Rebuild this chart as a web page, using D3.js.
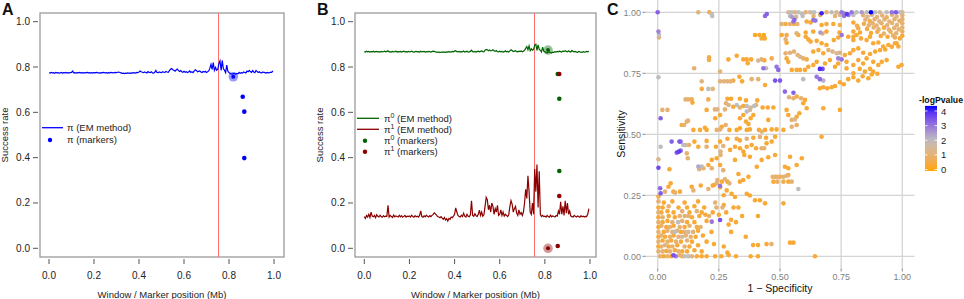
<!DOCTYPE html>
<html>
<head>
<meta charset="utf-8">
<script src="https://cdn.jsdelivr.net/npm/d3@7"></script>
<style>
  body { margin: 0; background: #fff; }
  svg { font-family: "Liberation Sans", Arial, Helvetica, sans-serif; }
</style>
</head>
<body>
<svg id="fig" width="964" height="299"></svg>
<script>
// ---- data ----
// EM windows every 0.005 Mb, starting at 0
const windowStep = 0.005;

// panel A: success rate pi (EM method)
const piEM = [
  0.775,0.773,0.776,0.774,0.775,0.772,0.776,0.774,0.775,0.773,0.774,0.776,0.773,0.775,0.774,0.776,0.773,0.775,0.774,0.775,
  0.776,0.782,0.774,0.775,0.773,0.775,0.774,0.776,0.774,0.775,0.773,0.775,0.774,0.775,0.776,0.774,0.775,0.773,0.775,0.774,
  0.775,0.774,0.776,0.775,0.774,0.773,0.775,0.774,0.776,0.775,0.774,0.775,0.773,0.775,0.774,0.776,0.775,0.774,0.775,0.776,
  0.775,0.777,0.778,0.776,0.774,0.772,0.773,0.771,0.773,0.772,0.774,0.773,0.772,0.774,0.773,0.775,0.774,0.773,0.776,0.775,
  0.778,0.782,0.779,0.777,0.775,0.778,0.776,0.774,0.780,0.776,0.775,0.779,0.774,0.773,0.777,0.785,0.776,0.775,0.778,0.776,
  0.775,0.779,0.777,0.776,0.780,0.778,0.777,0.784,0.790,0.793,0.788,0.786,0.782,0.787,0.791,0.785,0.780,0.784,0.779,0.777,
  0.781,0.777,0.779,0.776,0.778,0.783,0.776,0.779,0.775,0.782,0.788,0.785,0.779,0.781,0.783,0.778,0.776,0.780,0.778,0.781,
  0.776,0.779,0.783,0.795,0.812,0.790,0.820,0.785,0.798,0.786,0.790,0.815,0.827,0.785,0.829,0.792,0.786,0.775,0.809,0.781,
  0.776,0.772,0.770,0.769,0.772,0.771,0.768,0.772,0.770,0.776,0.772,0.775,0.773,0.778,0.776,0.774,0.782,0.779,0.785,0.780,
  0.776,0.784,0.778,0.775,0.785,0.780,0.776,0.779,0.775,0.774,0.778,0.776,0.775,0.773,0.776,0.774,0.775,0.777,0.776,0.783
];

// panel B: pi0 and pi1 (EM method)
const pi0EM = [
  0.868,0.866,0.870,0.867,0.869,0.866,0.868,0.867,0.870,0.866,0.868,0.869,0.867,0.868,0.866,0.869,0.867,0.868,0.870,0.867,
  0.869,0.872,0.867,0.868,0.866,0.869,0.867,0.868,0.870,0.866,0.868,0.867,0.869,0.866,0.868,0.870,0.867,0.868,0.866,0.869,
  0.867,0.868,0.870,0.867,0.866,0.868,0.869,0.867,0.868,0.866,0.870,0.867,0.868,0.869,0.866,0.868,0.867,0.869,0.868,0.866,
  0.868,0.870,0.869,0.867,0.866,0.865,0.867,0.864,0.866,0.865,0.867,0.866,0.865,0.867,0.866,0.868,0.867,0.866,0.869,0.867,
  0.870,0.872,0.868,0.867,0.869,0.866,0.868,0.867,0.871,0.866,0.868,0.870,0.866,0.867,0.869,0.874,0.868,0.867,0.869,0.866,
  0.868,0.870,0.867,0.869,0.871,0.868,0.867,0.874,0.878,0.876,0.872,0.875,0.871,0.873,0.876,0.872,0.869,0.873,0.868,0.867,
  0.870,0.867,0.869,0.866,0.868,0.872,0.867,0.869,0.866,0.871,0.876,0.873,0.868,0.870,0.872,0.868,0.867,0.870,0.868,0.871,
  0.867,0.870,0.874,0.882,0.890,0.876,0.893,0.872,0.880,0.874,0.878,0.896,0.901,0.873,0.898,0.879,0.874,0.866,0.888,0.870,
  0.867,0.864,0.862,0.865,0.867,0.864,0.862,0.866,0.865,0.868,0.866,0.869,0.867,0.870,0.868,0.866,0.871,0.868,0.872,0.869,
  0.867,0.872,0.868,0.866,0.873,0.869,0.867,0.869,0.866,0.865,0.869,0.867,0.866,0.865,0.868,0.866,0.867,0.869,0.867,0.870
];
const pi1EM = [
  0.140,0.132,0.145,0.138,0.150,0.136,0.160,0.142,0.139,0.145,0.135,0.148,0.141,0.138,0.146,0.140,0.137,0.144,0.139,0.142,
  0.141,0.190,0.138,0.145,0.140,0.136,0.147,0.139,0.143,0.140,0.138,0.146,0.139,0.144,0.137,0.141,0.145,0.138,0.142,0.140,
  0.143,0.138,0.146,0.140,0.137,0.144,0.139,0.142,0.138,0.145,0.165,0.140,0.137,0.143,0.139,0.146,0.141,0.138,0.144,0.140,
  0.145,0.150,0.156,0.152,0.146,0.140,0.138,0.135,0.140,0.133,0.128,0.136,0.125,0.130,0.120,0.132,0.128,0.138,0.135,0.142,
  0.150,0.178,0.160,0.145,0.140,0.138,0.146,0.140,0.155,0.142,0.138,0.150,0.141,0.139,0.148,0.210,0.145,0.141,0.152,0.144,
  0.140,0.150,0.168,0.145,0.160,0.142,0.148,0.185,0.225,0.215,0.170,0.190,0.160,0.200,0.185,0.150,0.175,0.160,0.190,0.145,
  0.150,0.170,0.145,0.160,0.142,0.150,0.145,0.140,0.148,0.185,0.210,0.195,0.160,0.175,0.185,0.155,0.145,0.170,0.150,0.158,
  0.145,0.160,0.200,0.260,0.220,0.320,0.250,0.160,0.150,0.200,0.150,0.350,0.250,0.370,0.180,0.340,0.150,0.140,0.145,0.140,
  0.142,0.138,0.145,0.140,0.137,0.146,0.139,0.143,0.140,0.138,0.145,0.142,0.165,0.150,0.205,0.150,0.185,0.145,0.210,0.155,
  0.200,0.150,0.165,0.142,0.140,0.138,0.145,0.141,0.138,0.143,0.140,0.137,0.144,0.139,0.142,0.138,0.141,0.140,0.150,0.175
];

// causal position
const causalPos = 0.75;

// marker estimates [position, success rate]
const piMarkers = [[0.861, 0.669], [0.868, 0.603], [0.868, 0.398]];
const piHighlight = [0.819, 0.757];
const pi0Markers = [[0.857, 0.769], [0.864, 0.66], [0.864, 0.341]];
const pi1Markers = [[0.864, 0.769], [0.864, 0.231], [0.857, 0.01]];
const pi0Highlight = [0.814, 0.875];
const pi1Highlight = [0.814, 0.0];

const axisTicksAB = [0, 0.2, 0.4, 0.6, 0.8, 1.0];

// panel C: [1 - specificity, sensitivity, -log p-value]
const rocPoints = [
  [0,1,3.3],[0.166,1,1.2],[0.211,1,0.5],[0.221,0.993,2],[0.223,0.985,2],
  [0.003,0.921,2.8],[0.005,0.908,2],[0.005,0.897,1.2],
  [0.439,0.985,3.2],[0.446,0.993,3.3],
  [0.534,1,1.5],[0.548,1,2],[0.561,1,1],[0.575,1,2],[0.589,0.995,2],[0.605,1,1],[0.623,1,1.5],[0.639,1,2],[0.67,0.996,4.1],[0.69,1,1],
  [0.711,1,2],[0.731,1,1.5],[0.752,1,3],[0.762,0.996,2.5],[0.773,0.993,3.8],[0.793,1,3],[0.813,1,2],[0.834,1,2.5],[0.855,1,2],[0.872,1,4.3],
  [0.889,1,2],[0.908,1,1.5],[0.936,1,2],[0.957,1,3],[0.974,1,3.4],[0.99,1,2],[1,1,1.5],
  [0.541,0.985,2],[0.566,0.982,1.5],[0.593,0.985,2],[0.548,0.982,2.5],[0.637,0.985,1],[0.664,0.989,1],[0.725,0.985,1],[0.745,0.989,1.5],[0.762,0.985,3],[0.78,0.989,3],[0.8,0.989,2],
  [0.507,0.952,1],[0.523,0.952,0.5],[0.541,0.952,1],[0.557,0.952,0.5],[0.571,0.952,1],[0.555,0.962,3],[0.559,0.969,3.2],[0.609,0.962,0.3],[0.625,0.958,0.3],[0.636,0.968,3],
  [0.645,0.966,3],[0.67,0.948,0.3],[0.69,0.952,0.3],[0.718,0.952,0.3],[0.745,0.948,0.5],[0.8,0.958,0.3],[0.815,0.945,0.5],
  [0.398,0.907,0.2],[0.416,0.907,0.2],[0.434,0.907,0.2],[0.425,0.893,0.3],[0.438,0.893,0.3],[0.507,0.907,0.3],[0.527,0.907,0.5],[0.568,0.914,1],[0.605,0.917,0.3],[0.636,0.921,0.3],
  [0.665,0.917,2.5],[0.674,0.913,1],[0.69,0.921,0.3],[0.743,0.917,0.3],[0.752,0.907,3],[0.8,0.921,0.3],[0.8,0.9,0.3],[0.82,0.935,0.5],[0.827,0.917,0.3],
  // dense top-right block
  [0.84,0.988,1],[0.858,0.982,1.5],[0.876,0.99,1],[0.897,0.981,1.2],[0.918,0.987,1],[0.936,0.98,0.8],[0.958,0.99,1],[0.977,0.983,1.2],[1,0.988,1],
  [0.849,0.97,1],[0.867,0.964,0.5],[0.887,0.972,1],[0.906,0.963,1.3],[0.927,0.971,1],[0.947,0.962,1],[0.968,0.972,1],[0.988,0.965,0.8],[1,0.972,1],
  [0.843,0.953,0.5],[0.863,0.947,1],[0.879,0.955,1],[0.895,0.946,1],[0.915,0.955,0.8],[0.938,0.947,1.1],[0.958,0.956,1],[0.978,0.948,1],[1,0.955,1],
  [0.856,0.932,0.4],[0.883,0.938,1],[0.903,0.93,1],[0.925,0.937,0.4],[0.945,0.929,1],[0.967,0.936,1],[0.985,0.93,1],[1,0.938,1],
  [0.872,0.915,0.3],[0.898,0.92,0.5],[0.925,0.913,1],[0.952,0.92,0.5],[0.975,0.914,1],[1,0.921,0.8],
  [0.94,0.9,0.3],[0.97,0.897,0.5],[1,0.904,0.3],[0.99,0.893,0.4],[0.962,0.905,1],[0.912,0.903,0.3],
  // 0.75 - 0.9
  [0.523,0.889,1],[0.527,0.875,0.3],[0.575,0.907,0.3],[0.605,0.9,0.3],[0.616,0.889,0.3],[0.625,0.88,0.3],[0.65,0.883,0.3],[0.67,0.873,0.3],[0.69,0.866,0.3],
  [0.72,0.886,0.3],[0.738,0.897,0.3],[0.779,0.9,0.3],[0.8,0.886,0.3],[0.813,0.907,0.3],[0.831,0.893,0.3],[0.854,0.886,0.3],[0.868,0.9,0.3],
  [0.881,0.873,0.3],[0.902,0.876,0.3],[0.922,0.86,0.3],[0.943,0.866,0.3],[0.97,0.873,0.3],[0.984,0.86,0.3],
  [0.523,0.832,1],[0.541,0.834,1.2],[0.557,0.839,1],[0.572,0.825,1],[0.582,0.818,1.3],[0.595,0.811,0.8],[0.609,0.807,0.5],
  [0.527,0.811,0.3],[0.534,0.797,0.3],[0.636,0.839,0.3],[0.657,0.845,0.3],[0.677,0.832,0.3],
  [0.698,0.845,1],[0.715,0.839,1.2],[0.732,0.832,1.5],[0.745,0.834,1],[0.738,0.811,2.8],[0.752,0.807,3],
  [0.765,0.825,0.3],[0.786,0.832,0.3],[0.8,0.845,0.3],[0.82,0.852,0.3],[0.84,0.834,0.3],[0.868,0.829,0.3],[0.889,0.839,0.3],[0.909,0.845,0.3],[0.93,0.848,0.3],[0.957,0.859,0.3],[0.977,0.873,0.3],
  [0.772,0.797,0.3],[0.8,0.784,0.3],[0.82,0.804,0.3],[0.84,0.79,0.3],[0.854,0.811,0.3],[0.881,0.797,0.3],[0.902,0.784,0.3],[0.916,0.797,0.3],[0.936,0.804,0.3],
  [0.684,0.79,0.3],[0.704,0.804,0.3],[0.725,0.777,0.3],[0.738,0.79,0.3],[0.636,0.784,0.3],[0.65,0.797,0.3],[0.616,0.777,0.3],
  [0.548,0.764,0.3],[0.568,0.764,0.3],[0.582,0.764,0.3],[0.602,0.764,0.3],[0.663,0.768,4],[0.674,0.768,3.6],
  [0.772,0.77,0.3],[0.8,0.75,0.3],[0.826,0.768,0.3],[0.847,0.757,0.3],[0.868,0.768,0.3],[0.881,0.757,0.3],[0.898,0.748,0.3],[0.984,0.777,0.3],[0.997,0.784,0.3],
  [0.289,0.807,0.3],[0.323,0.822,0.3],[0.21,0.816,0.5],[0.21,0.805,0.5],[0.149,0.771,1],[0.35,0.807,0.3],[0.364,0.807,0.3],[0.368,0.791,0.3],[0.382,0.807,0.3],
  [0.411,0.802,1.5],[0.425,0.807,1],[0.436,0.803,0.3],[0.432,0.771,3],[0.443,0.771,2],[0.466,0.811,0.5],[0.486,0.777,3],[0.493,0.764,3.2],[0.255,0.757,1],
  // 0.5 - 0.75
  [0.003,0.734,2],[0.18,0.717,1.2],[0.18,0.686,0.4],[0.207,0.686,2],[0.225,0.686,1],[0.255,0.717,1],[0.271,0.717,1.2],[0.285,0.717,1],[0.298,0.717,1],[0.309,0.72,0.5],
  [0.334,0.736,0.3],[0.345,0.717,0.3],[0.384,0.726,1],[0.411,0.726,1],[0.439,0.702,0.3],[0.48,0.72,3.5],[0.5,0.72,3.4],[0.52,0.675,3.2],[0.555,0.67,3.3],[0.595,0.726,2],
  [0.537,0.652,1],[0.555,0.648,1],[0.568,0.655,0.3],[0.586,0.648,1],[0.602,0.641,0.3],[0.595,0.627,0.3],[0.65,0.736,3],[0.663,0.726,3.2],[0.677,0.72,2.2],
  [0.663,0.689,0.3],[0.677,0.693,0.3],[0.693,0.689,0.3],[0.711,0.693,0.3],[0.725,0.698,0.3],[0.745,0.713,0.3],[0.761,0.705,0.3],[0.779,0.726,0.3],[0.8,0.734,0.3],[0.82,0.72,0.3],[0.838,0.738,0.3],[0.861,0.73,0.3],[0.875,0.745,0.3],
  [0.114,0.643,1],[0.125,0.643,1],[0.139,0.643,0.5],[0.142,0.63,0.3],[0.207,0.643,0.6],[0.234,0.602,1],[0.244,0.602,1.3],[0.275,0.602,1],[0.285,0.646,0.3],[0.3,0.646,0.3],
  [0.279,0.627,1],[0.29,0.62,1.3],[0.309,0.613,0.3],[0.323,0.62,2],[0.336,0.61,1],[0.35,0.616,0.3],[0.364,0.616,2],[0.38,0.61,1.5],[0.394,0.616,2],[0.402,0.62,1],
  [0.364,0.593,2],[0.377,0.6,1.5],[0.336,0.566,0.3],[0.35,0.579,0.3],[0.361,0.552,0.3],[0.371,0.542,0.3],[0.336,0.646,0.3],[0.361,0.639,0.3],[0.407,0.639,0.3],
  [0.429,0.61,0.3],[0.45,0.61,0.3],[0.473,0.61,0.3],[0.527,0.6,0.3],[0.534,0.579,0.3],[0.548,0.559,1],[0.561,0.561,1.3],[0.568,0.572,0.3],[0.579,0.586,0.3],[0.609,0.607,0.3],
  [0.677,0.607,0.3],[0.745,0.6,0.3],[0.019,0.6,1],[0.04,0.6,1],[0.012,0.566,3.3],[0.098,0.538,0.5],[0.108,0.538,1],[0.119,0.552,0.8],[0.124,0.556,1],
  [0.146,0.518,0.3],[0.173,0.518,0.3],[0.193,0.527,0.3],[0.2,0.518,0.3],[0.241,0.518,1],[0.255,0.52,1],[0.262,0.531,0.3],[0.278,0.538,1],
  [0.293,0.518,0.3],[0.323,0.518,0.3],[0.336,0.525,0.3],[0.364,0.518,0.3],[0.377,0.52,0.3],[0.414,0.518,0.3],[0.425,0.511,1],[0.439,0.518,0.3],
  [0.391,0.579,0.3],[0.38,0.566,0.3],[0.466,0.52,0.3],[0.486,0.52,0.3],[0.514,0.518,0.3],[0.548,0.531,1],[0.568,0.538,0.8],[0.452,0.559,0.3],
  [0.235,0.566,0.3],[0.255,0.579,0.3],[0.2,0.6,0.3],
  // 0.25 - 0.5
  [0.057,0.47,3.3],[0.089,0.47,3.4],[0.094,0.47,3],[0.105,0.456,2],[0.114,0.456,1.5],[0.128,0.456,1],[0.078,0.425,3.5],[0.087,0.429,3.8],[0.094,0.433,3.2],
  [0.012,0.449,2],[0.003,0.398,1.4],[0.003,0.363,3.6],[0.119,0.422,1],[0.123,0.402,1],[0.048,0.357,0.3],
  [0.15,0.47,0.3],[0.2,0.473,0.3],[0.255,0.47,0.3],[0.285,0.482,0.3],[0.323,0.482,0.5],[0.336,0.475,0.3],[0.364,0.482,1],[0.391,0.486,0.3],[0.418,0.489,1],[0.443,0.486,0.3],
  [0.166,0.449,0.3],[0.2,0.449,1],[0.238,0.449,0.3],[0.268,0.452,1],[0.257,0.429,1.2],[0.257,0.415,1],
  [0.296,0.436,0.3],[0.316,0.449,0.3],[0.336,0.443,0.3],[0.35,0.429,0.3],[0.364,0.449,0.3],[0.384,0.456,0.3],[0.402,0.443,0.3],
  [0.425,0.443,1],[0.435,0.443,1],[0.445,0.463,0.3],[0.466,0.47,0.3],[0.48,0.49,0.3],
  [0.377,0.408,0.3],[0.354,0.415,0.3],[0.316,0.395,0.3],[0.241,0.402,0.3],[0.221,0.395,0.3],[0.207,0.374,0.3],
  [0.166,0.368,2.3],[0.18,0.368,2],[0.17,0.357,1],[0.187,0.361,1],[0.221,0.361,1],[0.255,0.374,0.3],[0.268,0.353,1],
  [0.275,0.316,1],[0.285,0.306,0.3],[0.293,0.299,1],[0.262,0.306,0.3],[0.244,0.313,1],[0.23,0.292,0.3],
  [0.33,0.337,0.3],[0.336,0.306,0.3],[0.35,0.313,0.3],[0.371,0.326,0.3],[0.405,0.367,0.3],[0.425,0.395,0.3],[0.452,0.406,0.3],[0.48,0.415,0.3],
  [0.47,0.326,1],[0.48,0.326,0.5],[0.489,0.326,1],[0.5,0.326,0.5],[0.514,0.326,1],[0.527,0.33,1],[0.534,0.333,0.5],
  [0.473,0.306,0.3],[0.489,0.306,0.8],[0.514,0.306,0.5],[0.534,0.306,0.3],[0.548,0.306,1],
  [0.541,0.408,0.3],[0.589,0.402,0.3],[0.568,0.374,0.3],[0.67,0.49,0.3],[0.52,0.367,0.3],[0.534,0.361,0.3],[0.575,0.276,2],
  [0.053,0.299,0.3],[0.044,0.285,0.3],[0.03,0.265,1],[0.064,0.265,0.3],[0.071,0.261,1],[0.091,0.265,0.3],[0.01,0.279,3.2],[0.012,0.258,3.4],[0.003,0.245,0.5],
  [0.139,0.285,0.3],[0.146,0.27,1],[0.176,0.29,0.3],[0.207,0.276,1],[0.225,0.29,0.3],[0.241,0.299,1],[0.255,0.283,0.3],[0.255,0.288,3],
  [0.282,0.27,0.3],[0.302,0.256,0.3],[0.316,0.243,0.3],[0.364,0.256,0.3],[0.377,0.249,0.3],[0.398,0.23,0.3],[0.418,0.23,0.3],[0.439,0.217,0.3],[0.514,0.217,0.3],
  // 0 - 0.25 dense corner
  [0.01,0,1],[0.025,0,0.3],[0.04,0,1],[0.055,0,0.3],[0.064,0.004,3.5],[0.074,0,3],[0.09,0.004,1],[0.1,0,0.3],[0.11,0,2],[0.125,0,2],[0.14,0,1],[0.16,0,0.3],
  [0.18,0,0.3],[0.2,0,0.3],[0.235,0,0.3],[0.26,0,0.3],[0.29,0.005,0.3],[0.32,0,0.3],[0.38,0,0.3],[0.41,0,0.3],[0.643,0,0.3],
  [0.003,0.02,1],[0.02,0.02,1],[0.035,0.022,0.3],[0.05,0.02,1],[0.07,0.025,0.3],[0.085,0.02,1],[0.1,0.02,0.3],[0.12,0.02,0.3],[0.15,0.025,0.3],[0.18,0.02,0.3],[0.285,0.015,0.3],
  [0.003,0.04,0.3],[0.015,0.04,1],[0.03,0.045,1.2],[0.045,0.04,0.3],[0.06,0.04,1],[0.08,0.045,0.3],[0.11,0.04,1],[0.13,0.04,0.3],[0.165,0.045,0.3],
  [0.003,0.06,1],[0.02,0.065,0.3],[0.04,0.06,1],[0.055,0.065,0.3],[0.075,0.06,1],[0.095,0.06,0.3],[0.12,0.065,1],[0.14,0.06,0.3],
  [0.003,0.08,0.3],[0.015,0.085,1],[0.03,0.08,0.3],[0.05,0.08,1],[0.065,0.085,0.3],[0.085,0.08,1],[0.1,0.08,1.5],[0.115,0.085,1],[0.135,0.08,1],[0.155,0.08,0.3],[0.185,0.085,0.3],
  [0.003,0.1,1],[0.025,0.1,0.3],[0.04,0.105,1],[0.06,0.1,1],[0.07,0.1,2],[0.08,0.105,1],[0.095,0.1,0.3],[0.11,0.1,1],[0.125,0.1,1.5],[0.145,0.1,1],[0.165,0.105,0.3],
  [0.003,0.12,0.3],[0.015,0.125,1],[0.035,0.12,0.3],[0.05,0.12,1],[0.065,0.125,0.3],[0.09,0.12,1],[0.11,0.12,0.3],[0.13,0.125,1],[0.16,0.12,0.3],[0.175,0.12,1],
  [0.003,0.14,1],[0.02,0.14,0.3],[0.04,0.145,0.3],[0.06,0.14,1],[0.083,0.14,2],[0.1,0.145,1],[0.12,0.14,0.3],[0.15,0.14,0.3],[0.2,0.145,0.3],
  [0.003,0.16,0.3],[0.02,0.16,1],[0.045,0.165,0.3],[0.07,0.16,0.3],[0.09,0.165,1],[0.11,0.165,1],[0.125,0.165,1],[0.14,0.16,0.3],[0.17,0.165,0.3],[0.195,0.17,0.3],
  [0.003,0.18,1],[0.015,0.18,0.3],[0.04,0.185,0.3],[0.065,0.18,0.3],[0.1,0.185,1],[0.13,0.18,0.3],[0.16,0.185,1],[0.18,0.18,0.3],
  [0.003,0.2,0.3],[0.02,0.2,0.3],[0.045,0.205,1],[0.085,0.2,0.3],[0.12,0.2,0.3],[0.15,0.205,0.3],[0.19,0.2,0.3],
  [0.003,0.225,1],[0.025,0.22,0.3],[0.06,0.225,0.3],[0.11,0.22,0.3],[0.165,0.225,0.3],
  [0.221,0.142,3],[0.255,0.149,3.5],[0.21,0.165,1],[0.225,0.18,0.3],[0.24,0.2,1],[0.25,0.17,0.3],[0.265,0.2,1],[0.235,0.22,1],
  [0.27,0.25,0.3],[0.27,0.21,0.3],[0.28,0.18,0.3],[0.29,0.13,0.3],[0.3,0.15,0.3],[0.31,0.2,0.3],[0.32,0.14,0.3],[0.33,0.2,0.3],[0.345,0.165,0.3],
  [0.41,0.165,0.3],[0.39,0.046,0.3],[0.41,0.046,0.3],[0.445,0.05,0.3],[0.465,0.05,1],[0.541,0.056,0.3],[0.555,0.056,0.3],
  [0.27,0.04,0.3],[0.3,0.1,0.3],[0.22,0.1,0.3],[0.2,0.06,0.3],[0.23,0.05,0.3],[0.36,0.08,0.3]
];

const rocTicks = [0, 0.25, 0.5, 0.75, 1];
const rocTickLabels = ["0.00", "0.25", "0.50", "0.75", "1.00"];
const legendTicks = [0, 1, 2, 3, 4];

// ---- drawing ----
const svg = d3.select("#fig");
const textCol = "#222";
const boxCol = "#9a9a9a";

const yAB = d3.scaleLinear().domain([0, 1]).range([248.3, 21.7]);
const windowPos = piEM.map((d, i) => i * windowStep);

function basePanel(x, box, letter) {
    const g = svg.append("g");
    // box
    g.append("rect")
        .attr("x", box.left).attr("y", 13)
        .attr("width", box.right - box.left).attr("height", 244)
        .attr("fill", "none").attr("stroke", boxCol).attr("stroke-width", 1.3);
    // y ticks
    axisTicksAB.forEach(t => {
        g.append("line")
            .attr("x1", box.left - 7).attr("x2", box.left - 2)
            .attr("y1", yAB(t)).attr("y2", yAB(t))
            .attr("stroke", "#555").attr("stroke-width", 1);
        g.append("text")
            .attr("x", box.left - 10).attr("y", yAB(t) + 3.5)
            .attr("text-anchor", "end").attr("font-size", 10).attr("fill", textCol)
            .text(t.toFixed(1));
    });
    // x ticks
    axisTicksAB.forEach(t => {
        g.append("line")
            .attr("x1", x(t)).attr("x2", x(t))
            .attr("y1", 259).attr("y2", 264)
            .attr("stroke", "#555").attr("stroke-width", 1);
        g.append("text")
            .attr("x", x(t)).attr("y", 279)
            .attr("text-anchor", "middle").attr("font-size", 10).attr("fill", textCol)
            .text(t.toFixed(1));
    });
    g.append("text")
        .attr("x", (box.left + box.right) / 2).attr("y", 298)
        .attr("text-anchor", "middle").attr("font-size", 9.5).attr("fill", textCol)
        .text("Window / Marker position (Mb)");
    g.append("text")
        .attr("transform", `translate(${box.left - 32},135) rotate(-90)`)
        .attr("text-anchor", "middle").attr("font-size", 9.5).attr("fill", textCol)
        .text("Success rate");
    g.append("text")
        .attr("x", box.left - 38).attr("y", 15)
        .attr("font-size", 16).attr("font-weight", "bold").attr("fill", "#111")
        .text(letter);
    // causal line, snapped to the pixel grid so it stays crisp
    const cx = Math.round(x(causalPos)) + 0.5;
    g.append("line")
        .attr("x1", cx).attr("x2", cx)
        .attr("y1", 13).attr("y2", 257)
        .attr("stroke", "#ff6f6f").attr("stroke-width", 1);
    return g;
}

function emLine(g, x, values, color) {
    const line = d3.line()
        .x((d, i) => x(windowPos[i]))
        .y(d => yAB(d));
    g.append("path")
        .datum(values)
        .attr("d", line)
        .attr("fill", "none").attr("stroke", color).attr("stroke-width", 1.2);
}

function dots(g, x, data, color) {
    g.selectAll(null).data(data).enter().append("circle")
        .attr("cx", d => x(d[0])).attr("cy", d => yAB(d[1]))
        .attr("r", 2.3).attr("fill", color);
}

function halo(g, x, d, color) {
    g.append("circle").attr("cx", x(d[0])).attr("cy", yAB(d[1]))
        .attr("r", 4.8).attr("fill", color).attr("opacity", 0.4);
    g.append("circle").attr("cx", x(d[0])).attr("cy", yAB(d[1]))
        .attr("r", 2).attr("fill", color);
}

// Panel A
const xA = d3.scaleLinear().domain([0, 1]).range([49, 274]);
const gA = basePanel(xA, { left: 40, right: 284 }, "A");
const blue = "#0000ff";
emLine(gA, xA, piEM, blue);
halo(gA, xA, piHighlight, blue);
dots(gA, xA, piMarkers, blue);

gA.append("line").attr("x1", 42).attr("x2", 63).attr("y1", 127.7).attr("y2", 127.7)
    .attr("stroke", blue).attr("stroke-width", 1.3);
gA.append("circle").attr("cx", 50).attr("cy", 140).attr("r", 2.2).attr("fill", blue);
gA.append("text").attr("x", 67).attr("y", 131).attr("font-size", 9.5).attr("fill", textCol)
    .text("\u03c0 (EM method)");
gA.append("text").attr("x", 67).attr("y", 143.3).attr("font-size", 9.5).attr("fill", textCol)
    .text("\u03c0 (markers)");

// Panel B
const xB = d3.scaleLinear().domain([0, 1]).range([364.3, 590]);
const gB = basePanel(xB, { left: 355, right: 596 }, "B");
const green = "#006400", darkred = "#8b0000";
emLine(gB, xB, pi0EM, green);
emLine(gB, xB, pi1EM, darkred);
halo(gB, xB, pi0Highlight, green);
halo(gB, xB, pi1Highlight, darkred);
dots(gB, xB, pi0Markers, green);
dots(gB, xB, pi1Markers, darkred);

const legB = [
    { type: "line", color: green, sup: "0", label: " (EM method)", y: 118.3 },
    { type: "line", color: darkred, sup: "1", label: " (EM method)", y: 129.3 },
    { type: "dot", color: green, sup: "0", label: " (markers)", y: 140.7 },
    { type: "dot", color: darkred, sup: "1", label: " (markers)", y: 151.7 }
];
legB.forEach(d => {
    if (d.type === "line") {
        gB.append("line").attr("x1", 357).attr("x2", 379).attr("y1", d.y).attr("y2", d.y)
            .attr("stroke", d.color).attr("stroke-width", 1.3);
    } else {
        gB.append("circle").attr("cx", 365).attr("cy", d.y).attr("r", 2.2).attr("fill", d.color);
    }
    const t = gB.append("text").attr("x", 384).attr("y", d.y + 3.3)
        .attr("font-size", 9.5).attr("fill", textCol);
    t.append("tspan").text("\u03c0");
    t.append("tspan").attr("dy", -4).attr("font-size", 7).text(d.sup);
    t.append("tspan").attr("dy", 4).text(d.label);
});

// Panel C
const xC = d3.scaleLinear().domain([0, 1]).range([657.7, 902.3]);
const yC = d3.scaleLinear().domain([0, 1]).range([256.3, 12.3]);
const gC = svg.append("g");
const gridCol = "#d4d4d4";
rocTicks.forEach((t, i) => {
    gC.append("line").attr("x1", xC(t)).attr("x2", xC(t)).attr("y1", 0).attr("y2", 268.5)
        .attr("stroke", gridCol).attr("stroke-width", 1.3);
    gC.append("line").attr("x1", 645.5).attr("x2", 914.5).attr("y1", yC(t)).attr("y2", yC(t))
        .attr("stroke", gridCol).attr("stroke-width", 1.3);
    // ticks
    gC.append("line").attr("x1", xC(t)).attr("x2", xC(t)).attr("y1", 268.5).attr("y2", 271.5)
        .attr("stroke", "#888").attr("stroke-width", 1);
    gC.append("line").attr("x1", 642.5).attr("x2", 645.5).attr("y1", yC(t)).attr("y2", yC(t))
        .attr("stroke", "#888").attr("stroke-width", 1);
    gC.append("text").attr("x", xC(t)).attr("y", 279.5)
        .attr("text-anchor", "middle").attr("font-size", 9).attr("fill", "#7f7f7f")
        .text(rocTickLabels[i]);
    gC.append("text").attr("x", 641).attr("y", yC(t) + 3.2)
        .attr("text-anchor", "end").attr("font-size", 9).attr("fill", "#7f7f7f")
        .text(rocTickLabels[i]);
});

const colorC = d3.scaleLinear()
    .domain([0, 2, 4.3])
    .range(["#ffa500", "#bebebe", "#0000ff"])
    .interpolate(d3.interpolateLab);

const sortedPts = rocPoints.slice().sort((a, b) => a[2] - b[2]);
gC.selectAll(".pt").data(sortedPts).enter().append("circle")
    .attr("class", "pt")
    .attr("cx", d => xC(d[0])).attr("cy", d => yC(d[1]))
    .attr("r", 2.3)
    .attr("fill", d => colorC(d[2]));

gC.append("text").attr("x", 780).attr("y", 292)
    .attr("text-anchor", "middle").attr("font-size", 10.5).attr("fill", "#111")
    .text("1 \u2212 Specificity");
gC.append("text")
    .attr("transform", "translate(625,134) rotate(-90)")
    .attr("text-anchor", "middle").attr("font-size", 10.5).attr("fill", "#111")
    .text("Sensitivity");
gC.append("text").attr("x", 607).attr("y", 15)
    .attr("font-size", 16).attr("font-weight", "bold").attr("fill", "#111")
    .text("C");

// colour bar legend
const legY = d3.scaleLinear().domain([0, 4]).range([169.5, 111]);
const defs = svg.append("defs");
const grad = defs.append("linearGradient").attr("id", "cbar")
    .attr("x1", 0).attr("x2", 0).attr("y1", 1).attr("y2", 0);
d3.range(0, 11).forEach(i => {
    const v = -0.1 + i * (4.45 / 10);
    grad.append("stop").attr("offset", i / 10).attr("stop-color", colorC(Math.max(0, v)));
});
gC.append("rect")
    .attr("x", 925).attr("y", legY(4.35))
    .attr("width", 12).attr("height", legY(-0.1) - legY(4.35))
    .attr("fill", "url(#cbar)");
legendTicks.forEach(t => {
    gC.append("line").attr("x1", 925).attr("x2", 927.5).attr("y1", legY(t)).attr("y2", legY(t))
        .attr("stroke", "#fff").attr("stroke-width", 0.8);
    gC.append("line").attr("x1", 934.5).attr("x2", 937).attr("y1", legY(t)).attr("y2", legY(t))
        .attr("stroke", "#fff").attr("stroke-width", 0.8);
    gC.append("text").attr("x", 941).attr("y", legY(t) + 3.5)
        .attr("font-size", 9.5).attr("fill", "#222")
        .text(t);
});
gC.append("text").attr("x", 919).attr("y", 103)
    .attr("font-size", 9).attr("font-weight", "bold").attr("fill", "#111")
    .attr("textLength", 44).attr("lengthAdjust", "spacingAndGlyphs")
    .text("-logPvalue");
</script>
</body>
</html>
